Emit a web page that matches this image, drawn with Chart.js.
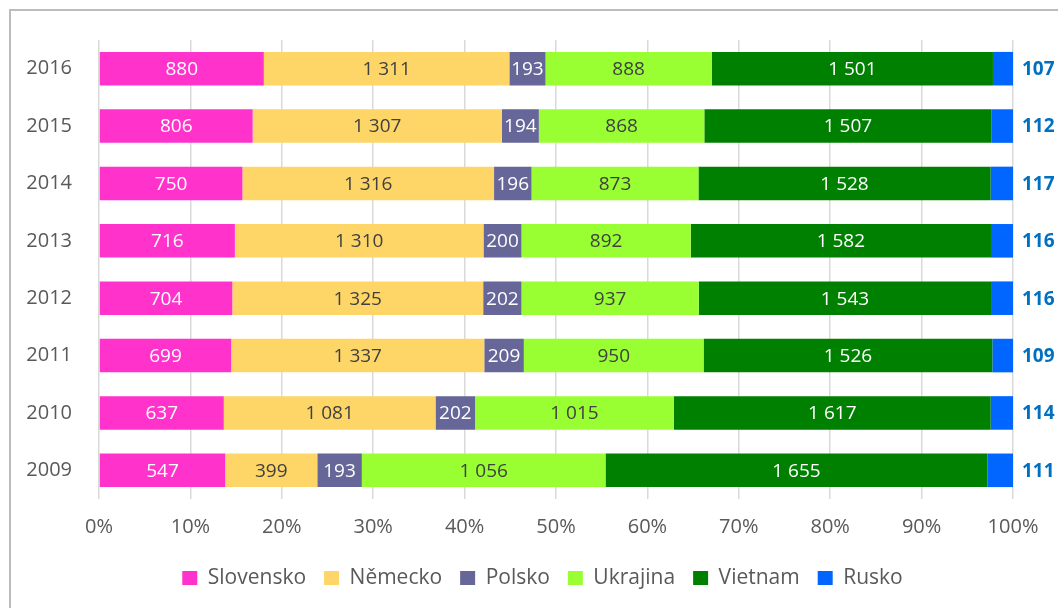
<!DOCTYPE html>
<html>
<head>
<meta charset="utf-8">
<script src="https://cdn.jsdelivr.net/npm/chart.js@4"></script>
<style>
  html, body { margin: 0; padding: 0; background: #fff; }
  #wrap { position: relative; width: 1058px; height: 608px; overflow: hidden; }
  #frame { position: absolute; left: 9px; top: 9px; width: 1100px; height: 700px;
           border-left: 2px solid #bcbcbc; border-top: 2px solid #bcbcbc; }
  canvas { position: absolute; left: 0; top: 0; }
</style>
</head>
<body>
<div id="wrap">
  <div id="frame"></div>
  <canvas id="myChart" width="1058" height="608"></canvas>
</div>
<script>
let years = ["2016", "2015", "2014", "2013", "2012", "2011", "2010", "2009"];
let countries = ["Slovensko", "Německo", "Polsko", "Ukrajina", "Vietnam", "Rusko"];

let slovensko = [880, 806, 750, 716, 704, 699, 637, 547];
let nemecko = [1311, 1307, 1316, 1310, 1325, 1337, 1081, 399];
let polsko = [193, 194, 196, 200, 202, 209, 202, 193];
let ukrajina = [888, 868, 873, 892, 937, 950, 1015, 1056];
let vietnam = [1501, 1507, 1528, 1582, 1543, 1526, 1617, 1655];
let rusko = [107, 112, 117, 116, 116, 109, 114, 111];

let xTicks = [0, 10, 20, 30, 40, 50, 60, 70, 80, 90, 100];

let series = [slovensko, nemecko, polsko, ukrajina, vietnam, rusko];
let colors = ["#ff33cc", "#fdd667", "#666699", "#99ff33", "#008000", "#0066ff"];
let labelColors = ["#ffffff", "#404040", "#ffffff", "#404040", "#ffffff", "#0070c0"];

let totals = years.map((y, i) => series.reduce((s, arr) => s + arr[i], 0));

function fmt(n) {
  return String(n).replace(/\B(?=(\d{3})+(?!\d))/g, " ");
}

const FONT = "'Open Sans', 'Noto Sans', sans-serif";

let valueLabels = {
  id: "valueLabels",
  afterDatasetsDraw(chart) {
    let ctx = chart.ctx;
    ctx.save();
    ctx.textBaseline = "middle";
    chart.data.datasets.forEach((ds, di) => {
      let meta = chart.getDatasetMeta(di);
      meta.data.forEach((bar, i) => {
        let txt = fmt(series[di][i]);
        if (di === 5) {
          ctx.font = "bold 19px " + FONT;
          ctx.fillStyle = labelColors[di];
          ctx.textAlign = "left";
          ctx.fillText(txt, bar.x + 9, bar.y + 1);
        } else {
          ctx.font = "19px " + FONT;
          ctx.fillStyle = labelColors[di];
          ctx.textAlign = "center";
          ctx.fillText(txt, (bar.x + bar.base) / 2, bar.y + 1);
        }
      });
    });
    ctx.restore();
  },
};

// legend sits centred under the whole frame, not only the plot
let legendShift = {
  id: "legendShift",
  afterUpdate(chart) {
    chart.legend.left = 72;
  },
};

var ctx = document.getElementById("myChart").getContext("2d");
var myChart = new Chart(ctx, {
  type: "bar",
  data: {
    labels: years,
    datasets: countries.map((name, di) => ({
      label: name,
      data: series[di].map((v, i) => (v / totals[i]) * 100),
      backgroundColor: colors[di],
      borderWidth: 0,
      barPercentage: 0.585,
      categoryPercentage: 1,
    })),
  },
  options: {
    indexAxis: "y",
    responsive: false,
    animation: false,
    layout: { padding: { left: 0, right: 45, top: 40, bottom: 9.5 } },
    scales: {
      x: {
        stacked: true,
        min: 0,
        max: 100,
        afterBuildTicks: (scale) => {
          scale.ticks = xTicks.map((v) => ({ value: v }));
        },
        afterFit: (scale) => {
          scale.height = 50.5;
        },
        ticks: {
          callback: (v) => v + "%",
          color: "#595959",
          font: { family: FONT, size: 20 },
          padding: 16,
          maxRotation: 0,
        },
        grid: { color: "#d9d9d9", lineWidth: 1.5, drawTicks: false },
        border: { display: false },
      },
      y: {
        stacked: true,
        afterFit: (scale) => {
          scale.width = 99;
        },
        ticks: {
          color: "#595959",
          font: { family: FONT, size: 20 },
          padding: 27,
        },
        grid: { display: false, drawTicks: false },
        border: { display: false },
      },
    },
    plugins: {
      legend: {
        position: "bottom",
        labels: {
          color: "#595959",
          font: { family: FONT, size: 21 },
          boxWidth: 15,
          boxHeight: 14,
          padding: 18,
        },
      },
      tooltip: { enabled: false },
    },
  },
  plugins: [valueLabels, legendShift],
});
</script>
</body>
</html>
